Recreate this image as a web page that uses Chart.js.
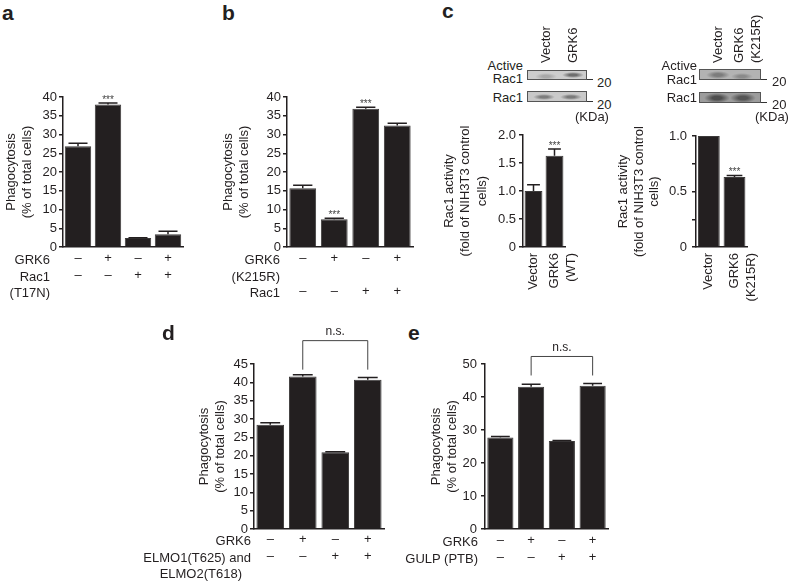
<!DOCTYPE html>
<html>
<head>
<meta charset="utf-8">
<script src="https://cdn.jsdelivr.net/npm/chart.js@4.4.1/dist/chart.umd.min.js"></script>
<style>
  html, body { margin: 0; padding: 0; background: #fff; }
  #page { position: relative; width: 788px; height: 582px; overflow: hidden;
          font-family: 'Liberation Sans', Arial, Helvetica, sans-serif; color: #231f20; }
  .t { position: absolute; white-space: nowrap; font-size: 13px; line-height: 1; }
  .letter { position: absolute; font-weight: bold; font-size: 21px; line-height: 1; }
  canvas { position: absolute; }
  .box { position: absolute; border: 1px solid #555; overflow: hidden; box-sizing: border-box; }
  .band { position: absolute; }
</style>
</head>
<body>
<div id="page"></div>
<script>
// ---- data ----
const aGrk6 = ['–', '+', '–', '+']
const aRac1 = ['–', '–', '+', '+']
const aValues = [26.9, 38.0, 2.4, 3.4]
const aErrors = [0.8, 0.4, 0.1, 0.8]
const aStars = ['', '***', '', '']

const bGrk6 = ['–', '+', '–', '+']
const bRac1 = ['–', '–', '+', '+']
const bValues = [15.7, 7.4, 36.9, 32.4]
const bErrors = [0.8, 0.3, 0.4, 0.6]
const bStars = ['', '***', '***', '']

const cLeftLabels = ['Vector', ['GRK6', '(WT)']]
const cLeftValues = [1.0, 1.63]
const cLeftErrors = [0.11, 0.12]
const cLeftStars = ['', '***']

const cRightLabels = ['Vector', ['GRK6', '(K215R)']]
const cRightValues = [1.0, 0.63]
const cRightErrors = [0, 0.015]
const cRightStars = ['', '***']

const dGrk6 = ['–', '+', '–', '+']
const dElmo = ['–', '–', '+', '+']
const dValues = [28.4, 41.6, 20.9, 40.7]
const dErrors = [0.6, 0.5, 0.2, 0.6]

const eGrk6 = ['–', '+', '–', '+']
const eGulp = ['–', '–', '+', '+']
const eValues = [27.7, 43.1, 26.7, 43.4]
const eErrors = [0.3, 0.8, 0.1, 0.7]

const FONT = "'Liberation Sans', Arial, Helvetica, sans-serif"
const INK = '#231f20'
const page = document.getElementById('page')

// ---- html helpers ----
function txt(s, x, y, anchor, cls) {
    let d = document.createElement('div')
    d.className = cls || 't'
    d.textContent = s
    d.style.left = x + 'px'
    d.style.top = y + 'px'
    if (anchor === 'r') d.style.transform = 'translate(-100%, -50%)'
    else if (anchor === 'c') d.style.transform = 'translate(-50%, -50%)'
    else d.style.transform = 'translate(0, -50%)'
    page.appendChild(d)
    return d
}

// rotated text, reads upward, starts at (x, y)
function vtxt(s, x, y) {
    let d = document.createElement('div')
    d.className = 't'
    d.textContent = s
    d.style.left = x + 'px'
    d.style.top = y + 'px'
    d.style.transformOrigin = '0 0'
    d.style.transform = 'rotate(-90deg) translateY(-50%)'
    page.appendChild(d)
}

function blot(x, y, w, h, bg, bands) {
    let b = document.createElement('div')
    b.className = 'box'
    b.style.left = x + 'px'
    b.style.top = y + 'px'
    b.style.width = w + 'px'
    b.style.height = h + 'px'
    b.style.background = bg
    bands.forEach(function (bd) {
        let e = document.createElement('div')
        e.className = 'band'
        e.style.left = (bd[0] - x - bd[2] / 2) + 'px'
        e.style.top = (bd[1] - y - bd[3] / 2) + 'px'
        e.style.width = bd[2] + 'px'
        e.style.height = bd[3] + 'px'
        e.style.background = 'radial-gradient(ellipse at center, ' + bd[4] + ' 0%, ' + bd[4] + ' 25%, rgba(0,0,0,0) 70%)'
        b.appendChild(e)
    })
    page.appendChild(b)
    // size marker
    let m = document.createElement('div')
    m.style.position = 'absolute'
    m.style.left = (x + w) + 'px'
    m.style.top = (y + h - 1) + 'px'
    m.style.width = '6px'
    m.style.height = '1px'
    m.style.background = '#333'
    page.appendChild(m)
}

// ---- chart plugins ----
const errorBars = {
    id: 'errorBars',
    afterDatasetsDraw(chart) {
        const ctx = chart.ctx
        const ds = chart.data.datasets[0]
        const meta = chart.getDatasetMeta(0)
        const y = chart.scales.y
        ctx.save()
        meta.data.forEach(function (bar, i) {
            let err = ds.errors ? ds.errors[i] : 0
            let top = y.getPixelForValue(ds.data[i] + err)
            let base = y.getPixelForValue(ds.data[i])
            let cap = bar.width * 0.36
            if (err > 0) {
                ctx.strokeStyle = INK
                ctx.lineWidth = 1.5
                ctx.beginPath()
                ctx.moveTo(bar.x, base)
                ctx.lineTo(bar.x, top)
                ctx.moveTo(bar.x - cap, top)
                ctx.lineTo(bar.x + cap, top)
                ctx.stroke()
            }
            if (ds.stars && ds.stars[i]) {
                ctx.fillStyle = '#444'
                ctx.font = '10px ' + FONT
                ctx.textAlign = 'center'
                ctx.textBaseline = 'alphabetic'
                ctx.fillText(ds.stars[i], bar.x, top - 0.5)
            }
        })
        ctx.restore()
    }
}

const bracket = {
    id: 'bracket',
    afterDatasetsDraw(chart, args, opts) {
        if (!opts || opts.from === undefined) return
        const ctx = chart.ctx
        const ds = chart.data.datasets[0]
        const meta = chart.getDatasetMeta(0)
        const y = chart.scales.y
        let x1 = meta.data[opts.from].x
        let x2 = meta.data[opts.to].x
        let t1 = y.getPixelForValue(ds.data[opts.from] + ds.errors[opts.from])
        let t2 = y.getPixelForValue(ds.data[opts.to] + ds.errors[opts.to])
        let leg = Math.min(t1, t2) - opts.gap
        let top = leg - opts.height
        ctx.save()
        ctx.strokeStyle = '#444'
        ctx.lineWidth = 1
        ctx.beginPath()
        ctx.moveTo(x1, leg)
        ctx.lineTo(x1, top)
        ctx.lineTo(x2, top)
        ctx.lineTo(x2, leg)
        ctx.stroke()
        ctx.fillStyle = INK
        ctx.font = '12px ' + FONT
        ctx.textAlign = 'center'
        ctx.textBaseline = 'middle'
        ctx.fillText(opts.text, (x1 + x2) / 2, top - 9)
        ctx.restore()
    }
}

function makeChart(p) {
    let cv = document.createElement('canvas')
    cv.width = p.w
    cv.height = p.h
    cv.style.left = p.x + 'px'
    cv.style.top = p.y + 'px'
    cv.style.width = p.w + 'px'
    cv.style.height = p.h + 'px'
    page.appendChild(cv)

    return new Chart(cv, {
        type: 'bar',
        data: {
            labels: p.labels,
            datasets: [{
                data: p.values,
                errors: p.errors,
                stars: p.stars,
                backgroundColor: INK,
                borderColor: '#3c3a3a',
                borderWidth: 1,
                barPercentage: p.barPct || 0.88,
                categoryPercentage: 1
            }]
        },
        options: {
            responsive: false,
            animation: false,
            devicePixelRatio: 1,
            layout: { padding: { top: p.padTop, right: p.padRight, left: 0, bottom: 0 } },
            plugins: {
                legend: { display: false },
                tooltip: { enabled: false },
                bracket: p.bracket || {}
            },
            scales: {
                x: {
                    grid: { display: false, drawTicks: false },
                    border: { display: true, color: INK, width: 1.5 },
                    ticks: {
                        font: { family: FONT, size: 13, lineHeight: p.xLine || 17 / 13 },
                        color: INK,
                        padding: p.xPad || 3,
                        autoSkip: false,
                        maxRotation: p.rot || 0,
                        minRotation: p.rot || 0
                    },
                    afterFit: function (s) { s.height = p.xH }
                },
                y: {
                    min: 0,
                    max: p.max,
                    ticks: {
                        stepSize: p.step,
                        autoSkip: false,
                        font: { family: FONT, size: 13 },
                        color: INK,
                        padding: p.yPad || 2,
                        callback: p.tickCb || function (v) { return v }
                    },
                    grid: { drawOnChartArea: false, drawTicks: true, tickLength: 4, color: INK, lineWidth: 1.5 },
                    border: { display: true, color: INK, width: 1.5 },
                    title: {
                        display: true,
                        text: p.title,
                        color: INK,
                        font: { family: FONT, size: 13, lineHeight: p.titleLine || 16 / 13 },
                        padding: { top: 3, bottom: 0 }
                    },
                    afterFit: function (s) { s.width = p.yW }
                }
            }
        },
        plugins: [errorBars, bracket]
    })
}

const phago = ['Phagocytosis', '(% of total cells)']
const rac = ['Rac1 activity', '(fold of NIH3T3 control', 'cells)']

// ---- panel a ----
makeChart({
    x: 0, y: 85, w: 190, h: 215, padTop: 12, padRight: 7, yW: 63, xH: 53,
    labels: aGrk6.map(function (g, i) { return [g, aRac1[i]] }),
    values: aValues, errors: aErrors, stars: aStars,
    max: 40, step: 5, title: phago
})
txt('a', 2, 12, 'l', 'letter')
txt('GRK6', 50, 259, 'r')
txt('Rac1', 50, 276, 'r')
txt('(T17N)', 50, 292, 'r')

// ---- panel b ----
makeChart({
    x: 217, y: 85, w: 203, h: 215, padTop: 12, padRight: 7, yW: 70, xH: 53,
    labels: bGrk6.map(function (g, i) { return [g, '', bRac1[i]] }),
    values: bValues, errors: bErrors, stars: bStars,
    max: 40, step: 5, title: phago, xLine: 16.5 / 13, barPct: 0.85
})
txt('b', 222, 12, 'l', 'letter')
txt('GRK6', 280, 259, 'r')
txt('(K215R)', 280, 276, 'r')
txt('Rac1', 280, 292, 'r')

// ---- panel c ----
function halfTicks(v) {
    if (v === 0) return '0'
    if (Math.abs(v * 2 - Math.round(v * 2)) > 1e-6) return ''
    return v.toFixed(1)
}
makeChart({
    x: 438, y: 120, w: 158, h: 190, padTop: 15, padRight: 6, yW: 85, xH: 63,
    labels: cLeftLabels, values: cLeftValues, errors: cLeftErrors, stars: cLeftStars,
    max: 2, step: 0.5, title: rac, tickCb: halfTicks, rot: 90, xPad: 6, barPct: 0.85,
    titleLine: 16.5 / 13, yPad: 3
})
makeChart({
    x: 613, y: 120, w: 163, h: 190, padTop: 16, padRight: 6, yW: 83, xH: 63,
    labels: cRightLabels, values: cRightValues, errors: cRightErrors, stars: cRightStars,
    max: 1, step: 0.25, title: rac, tickCb: halfTicks, rot: 90, xPad: 6, barPct: 0.85,
    titleLine: 15.5 / 13, yPad: 5
})
txt('c', 442, 10, 'l', 'letter')

// blots, left
blot(527, 70, 60, 10, '#cdcdcd', [[545, 75, 22, 7, '#a8a8a8'], [572, 74, 22, 6, '#6e6e6e']])
blot(527, 91, 60, 11, '#c9c9c9', [[543, 96, 22, 6, '#7d7d7d'], [570, 96, 22, 6, '#7a7a7a']])
txt('Active', 523, 65, 'r')
txt('Rac1', 523, 78, 'r')
txt('Rac1', 523, 97, 'r')
txt('20', 597, 82, 'l')
txt('20', 597, 104, 'l')
txt('(KDa)', 575, 116, 'l')
vtxt('Vector', 545, 63)
vtxt('GRK6', 572, 63)

// blots, right
blot(699, 69, 62, 11, '#b3b3b3', [[717, 74, 24, 8, '#7c7c7c'], [741, 75, 22, 7, '#8a8a8a']])
blot(699, 92, 62, 11, '#9c9c9c', [[716, 97, 26, 10, '#4e4e4e'], [742, 97, 26, 10, '#555555']])
txt('Active', 697, 65, 'r')
txt('Rac1', 697, 79, 'r')
txt('Rac1', 697, 97, 'r')
txt('20', 772, 81, 'l')
txt('20', 772, 104, 'l')
txt('(KDa)', 755, 116, 'l')
vtxt('Vector', 717, 63)
vtxt('GRK6', 738, 63)
vtxt('(K215R)', 755, 63)

// ---- panel d ----
makeChart({
    x: 193, y: 320, w: 199, h: 262, padTop: 44, padRight: 8, yW: 61, xH: 53,
    labels: dGrk6.map(function (g, i) { return [g, dElmo[i]] }),
    values: dValues, errors: dErrors,
    max: 45, step: 5, title: phago, barPct: 0.85, xPad: 2,
    bracket: { from: 1, to: 3, gap: 5, height: 29, text: 'n.s.' }
})
txt('d', 162, 332, 'l', 'letter')
txt('GRK6', 251, 540, 'r')
txt('ELMO1(T625) and', 251, 557, 'r')
txt('ELMO2(T618)', 242, 573, 'r')

// ---- panel e ----
makeChart({
    x: 425, y: 320, w: 191, h: 262, padTop: 44, padRight: 8, yW: 60, xH: 53,
    labels: eGrk6.map(function (g, i) { return [g, eGulp[i]] }),
    values: eValues, errors: eErrors,
    max: 50, step: 10, title: phago, barPct: 0.85, xPad: 3, yPad: 4,
    bracket: { from: 1, to: 3, gap: 8, height: 19, text: 'n.s.' }
})
txt('e', 408, 332, 'l', 'letter')
txt('GRK6', 478, 541, 'r')
txt('GULP (PTB)', 478, 558, 'r')
</script>
</body>
</html>
